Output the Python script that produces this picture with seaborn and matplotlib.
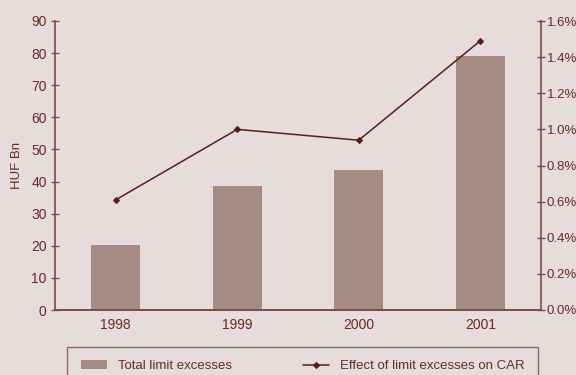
import numpy as np
import pandas as pd
import matplotlib
matplotlib.use("Agg")
import matplotlib.pyplot as plt
import seaborn as sns
from matplotlib import font_manager
from matplotlib.ticker import FuncFormatter, MultipleLocator, FixedLocator

years = ["1998", "1999", "2000", "2001"]
limit_excesses = [20.1, 38.6, 43.6, 79.1]      # HUF Bn
car_effect = [0.61, 1.00, 0.94, 1.49]           # per cent

bg = "#e5dcdb"
bar_color = "#a68b85"
text_color = "#6b2a24"
spine_color = "#7d4a45"
line_color = "#5a1e18"

# narrow font if there is one, otherwise plain Liberation Sans
installed = {f.name for f in font_manager.fontManager.ttflist}
narrow = [n for n in ("Liberation Sans Narrow", "Arial Narrow") if n in installed]
font = narrow[0] if narrow else "Liberation Sans"
fs = 11 if narrow else 10
fs_right = 11 if narrow else 9.5

sns.set_theme(style="white")
plt.rcParams["font.family"] = [font, "DejaVu Sans"]
plt.rcParams["font.size"] = fs
plt.rcParams["text.color"] = text_color
plt.rcParams["xtick.color"] = spine_color
plt.rcParams["ytick.color"] = spine_color
plt.rcParams["xtick.labelcolor"] = text_color
plt.rcParams["ytick.labelcolor"] = text_color

df = pd.DataFrame({"year": years, "excess": limit_excesses, "car": car_effect})

fig = plt.figure(figsize=(5.76, 3.75), dpi=100, facecolor=bg)
ax = fig.add_axes([55 / 576, 1 - 310 / 375, 486 / 576, 289 / 375])
ax.set_facecolor(bg)

sns.barplot(data=df, x="year", y="excess", color=bar_color, saturation=1,
            width=0.4, linewidth=0, edgecolor="none", ax=ax,
            label="Total limit excesses")
ax.set_xlim(-0.5, 3.5)
ax.set_ylim(0, 90)
ax.yaxis.set_major_locator(MultipleLocator(10))
ax.set_xlabel("")
ax.set_ylabel("HUF Bn", color=text_color, fontsize=fs - 0.5, labelpad=6)

ax2 = ax.twinx()
sns.pointplot(data=df, x="year", y="car", color=line_color, markers="D",
              markersize=3, linewidth=1.1, ax=ax2,
              label="Effect of limit excesses on CAR")
ax2.set_xlim(-0.5, 3.5)
ax2.set_ylim(0, 1.6)
ax2.yaxis.set_major_locator(MultipleLocator(0.2))
ax2.yaxis.set_major_formatter(FuncFormatter(lambda v, p: f"{v:.1f}%"))
ax2.set_ylabel("")

for a in (ax, ax2):
    for s in a.spines.values():
        s.set_color(spine_color)
        s.set_linewidth(1.2)
    a.spines["top"].set_visible(False)

ax.spines["right"].set_visible(False)
ax2.spines["left"].set_visible(False)

ax.tick_params(axis="y", direction="inout", length=6, width=1, labelsize=fs, pad=3)
ax2.tick_params(axis="y", direction="inout", length=6, width=1, labelsize=fs_right, pad=1)
ax.tick_params(axis="x", which="major", length=0, labelsize=fs, pad=6)
ax.xaxis.set_minor_locator(FixedLocator([0.5, 1.5, 2.5]))
ax.tick_params(axis="x", which="minor", direction="inout", length=7, width=1)

handles = ax.get_legend_handles_labels()[0][:1] + ax2.get_legend_handles_labels()[0][:1]
labels = ["Total limit excesses", "Effect of limit excesses on CAR"]
for a in (ax, ax2):
    if a.get_legend():
        a.get_legend().remove()
leg = fig.legend(handles, labels, ncol=2, loc="upper center",
                 bbox_to_anchor=(302.5 / 576, 1 - 347 / 375),
                 borderaxespad=0, frameon=True, fancybox=False,
                 facecolor=bg, edgecolor=spine_color, fontsize=9.5,
                 handlelength=2.0, handletextpad=0.8, borderpad=1.0,
                 columnspacing=5.4)
leg.get_frame().set_linewidth(1)

fig.savefig("out.png", dpi=100, facecolor=bg)
